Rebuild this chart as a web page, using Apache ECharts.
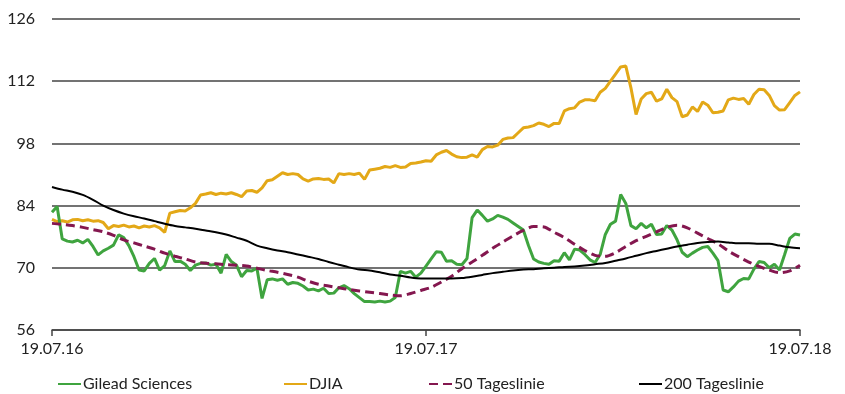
<!DOCTYPE html>
<html><head><meta charset="utf-8">
<script src="https://cdn.jsdelivr.net/npm/echarts@6/dist/echarts.min.js"></script>
<style>html,body{margin:0;padding:0;background:#fff}#c{width:845px;height:394px}</style>
</head><body><div id="c"></div>
<script>
// Tick labels
const xTickLabels = ['19.07.16', '19.07.17', '19.07.18'];
const seriesNames = ['Gilead Sciences', 'DJIA', '50 Tageslinie', '200 Tageslinie'];
// Daily series sampled every 5 days from 19.07.16
const priceStepDays = 5;
const gilead = [
82.5,83.8,76.5,76.0,75.8,76.2,75.6,76.4,74.8,72.9,73.8,74.4,75.1,77.4,76.8,75.0,72.5,69.5,69.3,71.0,
72.1,69.5,70.5,73.8,71.4,71.5,70.8,69.4,70.6,71.0,71.1,70.6,70.8,68.8,73.0,71.4,70.6,68.0,69.4,69.3,
69.9,63.1,67.3,67.5,67.2,67.5,66.3,66.7,66.5,65.9,65.0,65.2,64.8,65.4,64.2,64.3,65.5,66.0,65.3,64.2,
63.3,62.4,62.4,62.3,62.5,62.3,62.5,63.3,69.2,68.8,69.2,67.9,68.8,70.4,72.0,73.6,73.5,71.5,71.6,70.8,
70.7,72.1,81.3,83.0,81.8,80.5,81.0,81.8,81.4,80.9,80.1,79.3,78.5,75.0,72.0,71.3,71.0,70.8,71.6,71.5,
73.4,71.8,74.2,74.0,73.0,71.8,71.2,73.0,77.5,79.8,80.5,86.5,84.5,79.5,78.8,80.0,79.0,79.8,77.5,77.6,
79.5,78.5,76.3,73.5,72.5,73.3,74.0,74.6,74.8,73.3,71.6,65.0,64.6,65.7,67.0,67.6,67.5,69.7,71.4,71.2,
70.0,70.8,69.5,73.0,76.6,77.6,77.4
];
const djia = [
80.9,80.4,80.6,80.3,80.8,80.9,80.6,80.8,80.5,80.6,80.2,78.8,79.5,79.3,79.6,79.2,79.4,79.0,79.4,79.2,
79.5,79.0,78.0,82.3,82.6,82.9,82.8,83.5,84.5,86.4,86.6,86.9,86.5,86.8,86.6,86.9,86.5,86.0,87.3,87.4,
87.0,88.0,89.6,89.8,90.6,91.4,91.0,91.2,91.0,90.0,89.5,90.0,90.1,89.9,90.0,89.1,91.2,91.0,91.2,91.0,
91.3,89.9,92.0,92.2,92.4,92.8,92.6,93.0,92.6,92.7,93.5,93.6,93.8,94.1,94.0,95.4,96.0,96.4,95.6,95.0,
94.8,94.9,95.4,94.9,96.6,97.3,97.2,97.6,98.9,99.2,99.3,100.4,101.5,101.7,102.0,102.6,102.3,101.8,102.5,102.5,
105.3,105.8,106.0,107.3,107.8,107.8,107.6,109.5,110.4,112.0,113.6,115.2,115.4,110.5,104.5,108.0,109.2,109.5,107.5,108.0,
110.2,108.3,107.4,104.0,104.4,106.2,105.2,107.3,106.6,104.9,105.0,105.3,107.8,108.2,107.9,108.1,106.8,109.0,110.2,110.1,
108.8,106.5,105.5,105.6,107.2,108.8,109.6
];
// Moving averages sampled every 10 days
const maStepDays = 10;
const ma50 = [
80.0,79.8,79.5,79.1,78.6,78.1,77.3,76.3,75.6,74.9,74.2,73.3,72.6,72.0,71.3,71.0,70.9,70.7,70.6,70.4,
69.9,69.4,69.0,68.5,67.9,67.0,66.3,65.9,65.5,65.1,64.8,64.5,64.2,63.9,63.7,64.2,64.9,65.6,66.8,68.1,
69.8,71.3,72.8,74.4,75.8,77.2,78.4,79.3,79.2,78.0,76.8,75.3,73.9,72.8,72.6,73.4,74.8,76.1,77.1,78.1,
79.1,79.6,79.0,77.8,76.6,75.4,73.8,72.5,71.3,70.3,69.5,68.9,69.3,70.6
];
const ma200 = [
88.2,87.6,87.1,86.4,85.3,84.0,83.0,82.2,81.6,81.1,80.5,79.9,79.4,79.1,78.8,78.4,78.0,77.5,76.8,76.1,
75.0,74.4,73.9,73.5,73.0,72.5,72.0,71.3,70.7,70.1,69.6,69.4,69.0,68.5,68.2,67.8,67.6,67.6,67.6,67.6,
67.7,68.0,68.4,68.8,69.1,69.4,69.6,69.7,69.9,70.0,70.2,70.3,70.5,70.8,71.1,71.6,72.1,72.7,73.3,73.8,
74.3,74.8,75.2,75.6,75.8,75.9,75.7,75.5,75.5,75.4,75.4,75.0,74.6,74.4
];

function toPairs(arr, step) { return arr.map((v, i) => [i * step, v]); }

const FONT = 'Lato';
const chart = echarts.init(document.getElementById('c'));
const legendCommon = {
  top: 376, itemWidth: 23, itemHeight: 14, padding: 0,
  itemStyle: { opacity: 0 },
  textStyle: { fontFamily: FONT, fontSize: 16, color: '#222', padding: [0, 0, 0, -3] }
};
chart.setOption({
  animation: false,
  grid: { left: 52, right: 45, top: 19, bottom: 64 },
  legend: [
    Object.assign({ left: 57, data: [seriesNames[0]] }, legendCommon),
    Object.assign({ left: 283, data: [seriesNames[1]] }, legendCommon),
    Object.assign({ left: 428, data: [seriesNames[2]] }, legendCommon),
    Object.assign({ left: 638, data: [seriesNames[3]] }, legendCommon)
  ],
  xAxis: {
    type: 'value', min: 0, max: 730, interval: 365,
    axisLine: { show: true, lineStyle: { color: '#444', width: 1.5 } },
    axisTick: { show: true, length: 6, lineStyle: { color: '#444', width: 1.5 } },
    splitLine: { show: false },
    axisLabel: {
      fontFamily: FONT, fontSize: 16, color: '#222', margin: 11,
      formatter: v => xTickLabels[Math.round(v / 365)]
    }
  },
  yAxis: {
    type: 'value', min: 56, max: 126, interval: 14,
    axisLine: { show: false }, axisTick: { show: false },
    splitLine: { lineStyle: { color: '#444', width: 1.5 } },
    axisLabel: { fontFamily: FONT, fontSize: 16, color: '#222', margin: 17 }
  },
  series: [
    { name: seriesNames[0], type: 'line', data: toPairs(gilead, priceStepDays), symbol: 'none',
      lineStyle: { color: '#3fa43f', width: 3 }, itemStyle: { color: '#3fa43f' }, z: 3 },
    { name: seriesNames[1], type: 'line', data: toPairs(djia, priceStepDays), symbol: 'none',
      lineStyle: { color: '#e3a817', width: 3 }, itemStyle: { color: '#e3a817' }, z: 2 },
    { name: seriesNames[2], type: 'line', data: toPairs(ma50, maStepDays), symbol: 'none', smooth: 0.3,
      lineStyle: { color: '#84174f', width: 3, type: [9, 5] }, itemStyle: { color: '#84174f' }, z: 4 },
    { name: seriesNames[3], type: 'line', data: toPairs(ma200, maStepDays), symbol: 'none', smooth: 0.3,
      lineStyle: { color: '#000', width: 2 }, itemStyle: { color: '#000' }, z: 5 }
  ]
});
</script></body></html>
